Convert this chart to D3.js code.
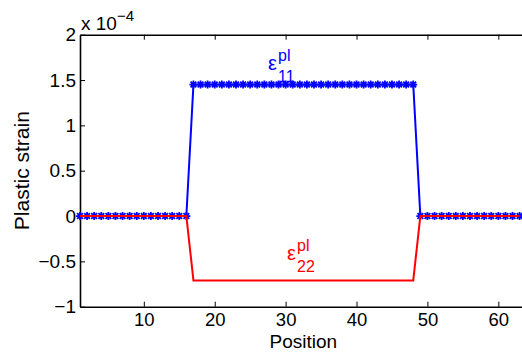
<!DOCTYPE html>
<html><head><meta charset="utf-8">
<script src="https://cdn.jsdelivr.net/npm/d3@7"></script>
<style>body{margin:0;background:#fff}svg{display:block}text{font-family:"Liberation Sans",Arial,sans-serif}</style>
</head><body><svg id="c" width="522" height="354"></svg>
<script>
const positions = [1,2,3,4,5,6,7,8,9,10,11,12,13,14,15,16,17,18,19,20,21,22,23,24,25,26,27,28,29,30,31,32,33,34,35,36,37,38,39,40,41,42,43,44,45,46,47,48,49,50,51,52,53,54,55,56,57,58,59,60,61,62,63];
const eps11 = [0,0,0,0,0,0,0,0,0,0,0,0,0,0,0,0,1.45,1.45,1.45,1.45,1.45,1.45,1.45,1.45,1.45,1.45,1.45,1.45,1.45,1.45,1.45,1.45,1.45,1.45,1.45,1.45,1.45,1.45,1.45,1.45,1.45,1.45,1.45,1.45,1.45,1.45,1.45,1.45,0,0,0,0,0,0,0,0,0,0,0,0,0,0,0];
const eps22 = [0,0,0,0,0,0,0,0,0,0,0,0,0,0,0,0,-0.71,-0.71,-0.71,-0.71,-0.71,-0.71,-0.71,-0.71,-0.71,-0.71,-0.71,-0.71,-0.71,-0.71,-0.71,-0.71,-0.71,-0.71,-0.71,-0.71,-0.71,-0.71,-0.71,-0.71,-0.71,-0.71,-0.71,-0.71,-0.71,-0.71,-0.71,-0.71,0,0,0,0,0,0,0,0,0,0,0,0,0,0,0];
const xTicks = [10,20,30,40,50,60];
const yTicks = [-1,-0.5,0,0.5,1,1.5,2];
const yTickLabels = ["\u22121","\u22120.5","0","0.5","1","1.5","2"];

const svg = d3.select("#c");
const L = 80, T = 34.7, B = 306.7, R = 526.7;
const x = d3.scaleLinear().domain([1,64]).range([L,R]);
const y = d3.scaleLinear().domain([-1,2]).range([B,T]);

// axes
const ax = svg.append("g");
ax.append("g").attr("transform",`translate(0,${B})`)
  .call(d3.axisBottom(x).tickValues(xTicks).tickSizeInner(-5).tickSizeOuter(0).tickPadding(6.5))
  .call(g=>{g.select(".domain").attr("stroke-width",1.6);g.selectAll("text").attr("font-size",18.5).attr("fill","#000");});
ax.append("g").attr("transform",`translate(0,${T})`)
  .call(d3.axisTop(x).tickValues(xTicks).tickSizeInner(-5).tickSizeOuter(0).tickFormat(""))
  .call(g=>g.select(".domain").attr("stroke-width",1.6));
ax.append("g").attr("transform",`translate(${L},0)`)
  .call(d3.axisLeft(y).tickValues(yTicks).tickSizeInner(-5).tickSizeOuter(0).tickPadding(4).tickFormat((d,i)=>yTickLabels[i]))
  .call(g=>{g.select(".domain").attr("stroke-width",1.6);g.selectAll("text").attr("font-size",19).attr("fill","#000");});

// lines
const line = d3.line().x((d,i)=>x(positions[i])).y(d=>y(d));
svg.append("path").datum(eps11).attr("d",line).attr("fill","none").attr("stroke","#0000ff").attr("stroke-width",2);
// asterisk markers
const m = svg.append("g").attr("stroke","#0000ff").attr("stroke-width",1.8);
eps11.forEach((v,i)=>{
  const cx = x(positions[i]), cy = y(v), r = 4, d = r*0.72;
  m.append("path").attr("d",`M${cx-r},${cy}H${cx+r}M${cx},${cy-r}V${cy+r}M${cx-d},${cy-d}L${cx+d},${cy+d}M${cx-d},${cy+d}L${cx+d},${cy-d}`);
});
svg.append("path").datum(eps22).attr("d",line).attr("fill","none").attr("stroke","#ff0000").attr("stroke-width",2);

// exponent label
const ex = svg.append("text").attr("x",81).attr("y",30).attr("font-size",19).attr("fill","#000");
ex.append("tspan").text("x 10");
ex.append("tspan").attr("dy",-9).attr("font-size",15).text("\u22124");

// epsilon labels
function epsLabel(px,py,sub,color){
  const g = svg.append("g").attr("fill",color);
  g.append("text").attr("x",px).attr("y",py).attr("font-size",20).text("\u03b5");
  g.append("text").attr("x",px+10).attr("y",py-9).attr("font-size",16).text("pl");
  g.append("text").attr("x",px+10).attr("y",py+12).attr("font-size",16).text(sub);
}
epsLabel(268,70,"11","#0000ff");
epsLabel(287,260,"22","#ff0000");

// axis titles
svg.append("text").attr("x",x(32.5)).attr("y",348).attr("text-anchor","middle").attr("font-size",19).text("Position");
svg.append("text").attr("transform",`translate(29,${(T+B)/2}) rotate(-90)`).attr("text-anchor","middle").attr("font-size",21).text("Plastic strain");
</script></body></html>
